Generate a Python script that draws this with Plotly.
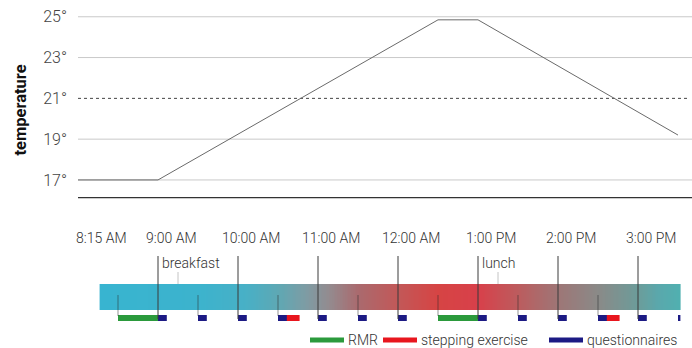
import numpy as np
import plotly.graph_objects as go

# ---------------- data ----------------
# temperature profile (decimal hours of the day, degrees C)
temp_times = [8.0, 9.0, 12.5, 13.0, 15.5]
temp_values = [17.0, 17.0, 24.85, 24.85, 19.2]
reference_temp = 21
grid_temps = [17, 19, 23, 25]
y_tick_vals = [17, 19, 21, 23, 25]
y_tick_text = ["17°", "19°", "21°", "23°", "25°"]

# time axis labels
time_label_times = [8.25, 9, 10, 11, 12, 13, 14, 15]
time_label_text = ["8:15 AM", "9:00 AM", "10:00 AM", "11:00 AM",
                   "12:00 AM", "1:00 PM", "2:00 PM", "3:00 PM"]
hour_marks = [9, 10, 11, 12, 13, 14, 15]
half_hour_marks = [8.5, 9.5, 10.5, 11.5, 12.5, 13.5, 14.5]

# protocol session
session_start = 8.27
session_end = 15.53
meal_names = ["breakfast", "lunch"]
meal_times = [9.25, 13.25]

# protocol events (start time, duration in hours)
rmr_starts = [8.5, 12.5]
rmr_durations = [0.5, 0.5]
step_starts = [10.6, 14.6]
step_durations = [0.17, 0.17]
quest_starts = [9.0, 9.5, 10.0, 10.5, 11.0, 11.5, 12.0, 13.0, 13.5, 14.0, 14.5, 15.0, 15.5]
quest_duration = 0.11

legend_names = ["RMR", "stepping exercise", "questionnaires"]
legend_colors = ["#2b9a3c", "#e8161e", "#1c1a84"]

# colour gradient of the session bar (time, colour)
gradient_times = [8.27, 9.5, 10.1, 10.5, 10.85, 11.15, 11.5, 12.0, 12.5, 13.0,
                  13.5, 14.0, 14.5, 15.0, 15.25, 15.53]
gradient_colors = ["#38b4d0", "#3cb3cd", "#48b0c6", "#5ea8b4", "#7e9ca4", "#948a8e",
                   "#aa6a6e", "#c25858", "#d64444", "#d8404a",
                   "#bc5c5e", "#9e7676", "#8a8a88", "#6c9c9a", "#5aa8ac", "#50b0b0"]

# ---------------- figure ----------------
FONT = "Roboto, 'Open Sans', sans-serif"
W, H = 692, 348
ML, MR, MT, MB = 78, 0, 8, 0
PX_PER_HOUR = 80.0
plot_w = W - ML - MR
x_range = [8.0, 8.0 + plot_w / PX_PER_HOUR]
plot_h = H - MT - MB
split = (H - 198.3) / plot_h          # top panel bottom edge (paper)
y_range = [16.10, 25.43]
y2_range = [0, H - 198.3]             # bottom panel, 1 unit = 1 px from bottom

fig = go.Figure()

# temperature line
fig.add_trace(go.Scatter(x=temp_times, y=temp_values, mode="lines",
                         line=dict(color="#6a6a6a", width=1),
                         showlegend=False, hoverinfo="skip"))

# gradient session bar
edges = np.linspace(session_start, session_end, 361)
centers = (edges[:-1] + edges[1:]) / 2
span = session_end - session_start
cscale = [[(t - session_start) / span, c] for t, c in zip(gradient_times, gradient_colors)]
fig.add_trace(go.Heatmap(x=edges, y=[38, 64], z=[centers], colorscale=cscale,
                         zmin=session_start, zmax=session_end, showscale=False,
                         hoverinfo="skip", yaxis="y2"))


def segs(starts, durs):
    xs, ys = [], []
    for s, d in zip(starts, durs):
        e = min(s + d, session_end)
        xs += [s, e, None]
        ys += [30, 30, None]
    return xs, ys


for name, starts, durs, col in zip(
    legend_names,
    [rmr_starts, step_starts, quest_starts],
    [rmr_durations, step_durations, [quest_duration] * len(quest_starts)],
    legend_colors,
):
    xs, ys = segs(starts, durs)
    fig.add_trace(go.Scatter(x=xs, y=ys, mode="lines", name=name, yaxis="y2",
                             line=dict(color=col, width=6), hoverinfo="skip",
                             showlegend=False))

shapes = []
# grid lines
for g in grid_temps:
    shapes.append(dict(type="line", xref="paper", yref="y", x0=0, x1=1, y0=g, y1=g,
                       line=dict(color="#c9c9c9", width=1), layer="below"))
shapes.append(dict(type="line", xref="paper", yref="y", x0=0, x1=0.993,
                   y0=reference_temp, y1=reference_temp,
                   line=dict(color="#444444", width=1, dash="dot"), layer="below"))
# baseline
shapes.append(dict(type="line", xref="paper", yref="y", x0=0, x1=1,
                   y0=y_range[0] + 0.02, y1=y_range[0] + 0.02,
                   line=dict(color="#333333", width=2)))
# hour lines
for h in hour_marks:
    shapes.append(dict(type="line", xref="x", yref="y2", x0=h, x1=h, y0=29, y1=92,
                       line=dict(color="#3a3a3a", width=1)))
# half-hour ticks
for h in half_hour_marks:
    shapes.append(dict(type="line", xref="x", yref="y2", x0=h, x1=h, y0=32, y1=53,
                       line=dict(color="rgba(40,40,40,0.5)", width=1)))
# meal ticks
for m in meal_times:
    shapes.append(dict(type="line", xref="x", yref="y2", x0=m, x1=m, y0=64, y1=76,
                       line=dict(color="#c4c4c4", width=1)))

annotations = []
for i, (t, txt) in enumerate(zip(time_label_times, time_label_text)):
    annotations.append(dict(x=t, y=110, xref="x", yref="y2", text=txt, showarrow=False,
                            xanchor="center", yanchor="middle", xshift=3 if i == 0 else 13,
                            font=dict(family=FONT, size=14, color="#333333", weight=300)))
for name, m in zip(meal_names, meal_times):
    annotations.append(dict(x=m - 0.25, y=85, xref="x", yref="y2", text=name, showarrow=False,
                            xanchor="left", yanchor="middle", xshift=2,
                            font=dict(family=FONT, size=14, color="#333333", weight=300)))
annotations.append(dict(x=0, y=20.4, xref="paper", yref="y", text="<b>temperature</b>",
                        showarrow=False, textangle=-90, xshift=-57,
                        xanchor="center", yanchor="middle",
                        font=dict(family=FONT, size=16.5, color="#111111")))

# manual legend (bottom right)
legend_sample_px = [310, 383, 549]
SAMPLE_LEN = 34
for name, col, px in zip(legend_names, legend_colors, legend_sample_px):
    x0 = (px - ML) / plot_w
    x1 = (px + SAMPLE_LEN - ML) / plot_w
    shapes.append(dict(type="line", xref="paper", yref="y2", x0=x0, x1=x1, y0=8, y1=8,
                       line=dict(color=col, width=5)))
    annotations.append(dict(x=x1, y=8, xref="paper", yref="y2", text=name, showarrow=False,
                            xanchor="left", yanchor="middle", xshift=2,
                            font=dict(family=FONT, size=14, color="#333333", weight=300)))

fig.update_layout(
    width=W, height=H,
    margin=dict(l=ML, r=MR, t=MT, b=MB, autoexpand=False),
    paper_bgcolor="white", plot_bgcolor="white",
    font=dict(family=FONT, color="#333333"),
    showlegend=False,
    xaxis=dict(range=x_range, showticklabels=False, showgrid=False, zeroline=False,
               showline=False, ticks=""),
    yaxis=dict(domain=[split, 1], range=y_range, tickvals=y_tick_vals, ticktext=y_tick_text,
               showgrid=False, zeroline=False, showline=False, ticks="",
               ticklabelstandoff=10,
               tickfont=dict(family=FONT, size=16, color="#444444", weight=300)),
    yaxis2=dict(domain=[0, split], range=y2_range, visible=False),
    shapes=shapes,
    annotations=annotations,
)

fig.write_html("out.html", config={"displayModeBar": False},
               post_script="document.body.style.margin='0';document.body.style.padding='0';")
